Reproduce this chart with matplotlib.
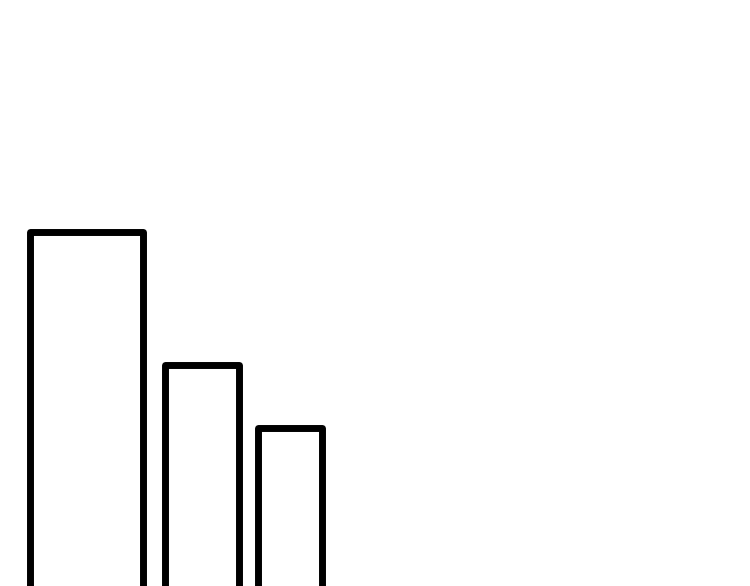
import matplotlib
matplotlib.use("Agg")
import matplotlib.pyplot as plt

# data
categories = ["A", "B", "C"]
values = [374, 241.5, 178.5]

# layout
centers = [86, 201.75, 289.75]
widths = [113, 74.5, 63.5]
baseline = -20

fig = plt.figure(figsize=(7.5, 5.86), dpi=100)
ax = fig.add_axes([0, 0, 1, 1])
ax.set_xlim(0, 750)
ax.set_ylim(0, 586)
bars = ax.bar(centers, values, width=widths, bottom=baseline,
              facecolor="none", edgecolor="black", linewidth=5.0)
for b in bars:
    b.set_joinstyle("round")
ax.axis("off")
fig.savefig("out.png", dpi=100, facecolor="white")
